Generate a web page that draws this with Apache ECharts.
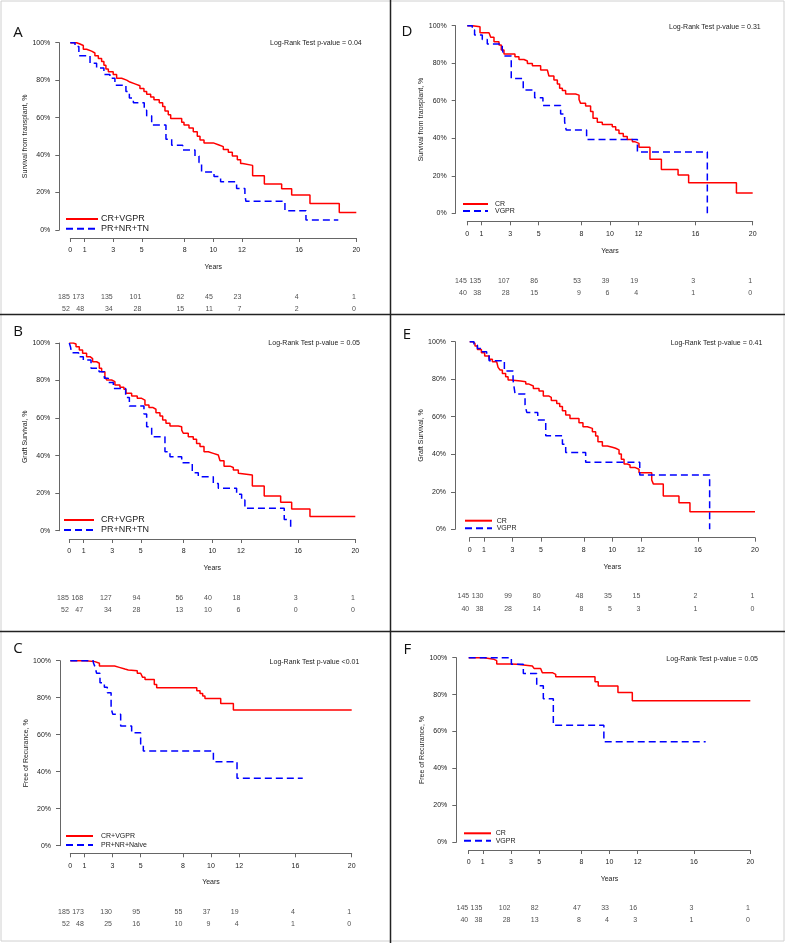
<!DOCTYPE html>
<html>
<head>
<meta charset="utf-8">
<script src="https://cdn.jsdelivr.net/npm/echarts@6/dist/echarts.min.js"></script>
<style>
html, body { margin: 0; padding: 0; background: #fff; }
#main { width: 788px; height: 943px; }
</style>
</head>
<body>
<div id="main"></div>
<script>
// x ticks and the times of the numbers-at-risk table
var yearTicks = [0, 1, 3, 5, 8, 10, 12, 16, 20];
var riskTimes = [0, 1, 3, 5, 8, 10, 12, 16, 20];

// A: survival from transplant, CR+VGPR vs PR+NR+TN  [years, %]
var aCr = [[0,100],[0.44,99.3],[0.68,98.5],[0.91,96.5],[1.14,95.5],[1.49,94.5],[1.72,93],[1.96,91.5],[2.19,90],[2.35,88],[2.49,86],[2.66,84.5],[3.0,83],[3.24,81],[3.59,80],[3.94,79],[4.17,78],[4.52,77],[4.87,75.5],[5.15,74],[5.34,72.5],[5.62,71],[5.85,69.5],[6.22,68],[6.46,66],[6.62,63.5],[6.85,61.5],[7.02,59.5],[7.79,57.5],[7.95,56],[8.3,54.5],[8.6,52.5],[8.88,50],[9.07,48],[9.35,46.5],[10.0,45.5],[10.35,44.5],[10.7,43],[11.05,41.5],[11.33,39.5],[11.68,37.5],[11.91,35.5],[12.05,34.5],[12.75,29],[13.57,24.5],[14.78,22],[15.48,18.7],[16.76,14.2],[18.81,9.4],[20,9.4]];
var aPr = [[0,100],[0.33,98],[0.6,93],[1.38,89],[1.84,86.5],[2.35,83],[2.77,81],[3.12,77.3],[3.89,74],[4.13,70.5],[4.41,68],[5.17,64],[5.34,61],[5.69,56],[6.69,48.5],[7.09,45.3],[7.86,42.7],[8.72,39.5],[9.0,36],[9.18,31],[10.05,28.5],[10.51,25.7],[11.63,22.2],[12.21,19],[12.28,15.3],[15.01,10.3],[16.48,5.3],[18.74,5.3]];
var aRisk1 = [185, 173, 135, 101, 62, 45, 23, 4, 1];
var aRisk2 = [52, 48, 34, 28, 15, 11, 7, 2, 0];

// B: graft survival
var bCr = [[0,100],[0.28,99.5],[0.47,98],[0.7,96.3],[0.93,94.5],[1.21,92.7],[1.45,91.7],[1.63,90],[1.91,89.2],[2.1,86.5],[2.26,84.7],[2.49,82],[2.61,80.3],[2.96,79.4],[3.19,77.6],[3.54,76.4],[3.82,75.3],[3.96,73.2],[4.36,71.8],[4.75,70.5],[5.06,69.6],[5.29,67],[5.57,65.7],[5.83,64.7],[6.06,62.9],[6.34,61.1],[6.53,59],[6.76,57.2],[7.04,55.8],[7.62,55.4],[7.86,53.6],[7.97,51.9],[8.32,50.1],[8.67,48.7],[8.9,46.5],[9.14,44.8],[9.42,42.1],[9.72,41.2],[10.07,40.3],[10.42,39.4],[10.54,37.3],[10.82,34.4],[11.24,33.7],[11.47,32.3],[11.82,30.6],[11.93,29.7],[12.8,23.8],[13.63,18.5],[14.78,15.1],[15.55,11.5],[16.83,7.5],[20,7.5]];
var bPr = [[0,100],[0.09,97.7],[0.16,94.8],[0.65,92.7],[0.98,90.9],[1.52,86.5],[2.08,84.7],[2.45,81.2],[2.73,78.9],[3.08,75.8],[3.94,71],[4.2,66.4],[5.22,62.2],[5.41,55.4],[5.76,50.1],[6.69,42.1],[7.04,39.4],[7.86,36.2],[8.6,30.9],[9.02,28.8],[10.07,25.2],[10.42,22.6],[11.7,19.4],[12.05,16.3],[12.28,11.9],[15.03,6],[15.48,0]];
var bRisk1 = [185, 168, 127, 94, 56, 40, 18, 3, 1];
var bRisk2 = [52, 47, 34, 28, 13, 10, 6, 0, 0];

// C: free of recurrence
var cCr = [[0,100],[1.07,99.5],[1.75,98.6],[2.07,97.1],[3.15,96.4],[3.48,95.5],[3.88,95],[4.12,94.6],[4.76,93.2],[5.0,92.3],[5.14,91],[5.31,89.9],[5.97,87.2],[6.14,85.4],[8.99,83.8],[9.22,82.3],[9.41,80.9],[9.57,79.6],[10.69,76.9],[11.59,73.3],[20,73.3]];
var cPr = [[0,100],[1.64,98.9],[1.75,96.8],[1.87,93.2],[2.11,88.1],[2.42,85.6],[2.63,82.7],[2.9,74.2],[3.02,71],[3.58,64.7],[4.36,61.1],[5.0,55],[5.19,51.2],[10.17,45.4],[11.85,36.4],[16.52,36.4]];
var cRisk1 = [185, 173, 130, 95, 55, 37, 19, 4, 1];
var cRisk2 = [52, 48, 25, 16, 10, 9, 4, 1, 0];

// D: survival from transplant, CR vs VGPR
var dCr = [[0,100],[0.35,99.5],[0.89,96.3],[1.52,95.9],[1.64,93.8],[1.87,91.5],[2.22,89.7],[2.38,87],[2.57,84.9],[3.34,83.5],[3.62,82],[3.97,81.2],[4.21,79.9],[4.56,78.7],[5.14,76.4],[5.61,75.5],[5.72,73.2],[6.07,71],[6.31,68.9],[6.47,66.6],[6.66,65.4],[6.89,63.6],[7.59,63],[7.83,60.7],[7.94,58.6],[8.29,57.2],[8.64,54.2],[8.81,50.6],[9.11,48.5],[9.46,47.4],[10.16,46.2],[10.4,44.4],[10.63,42.6],[10.93,40.9],[11.21,39.4],[11.57,38.2],[11.73,37.3],[12.03,35.2],[12.8,28.8],[13.6,23.4],[14.77,20.4],[15.51,16.3],[18.86,10.8],[20,10.8]];
var dVg = [[0,100],[0.35,97.7],[0.51,95],[1.05,92.7],[1.4,90.2],[2.45,87.4],[2.57,83.8],[3.08,71.9],[3.92,65.7],[4.72,61.6],[5.3,57.5],[6.54,52.9],[6.82,48.8],[6.93,44.4],[8.36,39.4],[11.92,32.7],[16.82,0]];
var dRisk1 = [145, 135, 107, 86, 53, 39, 19, 3, 1];
var dRisk2 = [40, 38, 28, 15, 9, 6, 4, 1, 0];

// E: graft survival
var eCr = [[0,100],[0.19,99.1],[0.37,97.7],[0.54,95.9],[0.82,94.1],[1.05,92.4],[1.36,90.6],[1.59,89.3],[1.89,88.5],[1.99,86.3],[2.13,84.9],[2.29,83.1],[2.52,81.3],[2.69,79.6],[2.87,79],[3.57,78.7],[3.93,77.4],[4.16,76.4],[4.46,75.1],[4.86,73.7],[5.16,71],[5.56,70.3],[5.72,68.6],[6.1,67.1],[6.31,65.4],[6.5,63.2],[6.73,60.9],[7.03,59.1],[7.66,56.8],[7.94,54.7],[8.25,53.8],[8.6,52],[8.83,49.7],[8.99,46.7],[9.3,44.4],[9.65,43.7],[10,43.2],[10.23,42.3],[10.47,40.1],[10.63,37.3],[10.82,34.8],[11.05,34.3],[11.24,33],[11.57,32],[11.87,30.2],[12.76,26.3],[12.87,24.2],[13.57,17.8],[14.67,14.2],[15.44,9.4],[20,9.4]];
var eVg = [[0,100],[0.3,98.2],[0.54,96.4],[0.89,94.7],[1.19,92.9],[1.36,89.9],[2.43,84.4],[3.04,79.6],[3.18,72.1],[3.88,66.3],[4.0,62.3],[4.77,58.3],[5.33,49.9],[6.5,45.3],[6.73,40.9],[8.13,35.7],[11.92,29],[16.82,0]];
var eRisk1 = [145, 130, 99, 80, 48, 35, 15, 2, 1];
var eRisk2 = [40, 38, 28, 14, 8, 5, 3, 1, 0];

// F: free of recurrence
var fCr = [[0,100],[1.07,99.1],[1.8,98.4],[1.99,96.6],[2.98,96.4],[3.41,95.5],[4.52,95.1],[4.64,94.2],[5.11,93.7],[5.23,91.9],[5.94,91],[6.18,89.7],[8.97,87],[9.2,84.7],[10.6,81.2],[11.62,76.7],[20,76.7]];
var fVg = [[0,100],[3.03,96.4],[3.88,91.5],[4.83,84.8],[5.3,77.8],[6.01,63.4],[9.6,54.5],[16.83,54.5]];
var fRisk1 = [145, 135, 102, 82, 47, 33, 16, 3, 1];
var fRisk2 = [40, 38, 28, 13, 8, 4, 3, 1, 0];

var FONT = '"Liberation Sans", Arial, Helvetica, sans-serif';
var RED = '#ff0000';
var BLUE = '#0000ff';
var TXT = '#222';
var AX = '#666';

// layout of each panel (pixels)
var panels = [
    { letter: 'A', lx: 18, ly: 33, left: 70.3, top: 42.7, width: 286, height: 187.3, yLine: 59.3, xLine: 238, yearsY: 267, yNameX: 30,
      yName: 'Survival from transplant, %', names: ['CR+VGPR', 'PR+NR+TN'], red: aCr, blue: aPr, r1: aRisk1, r2: aRisk2, riskY: [296.7, 309],
      legLeft: 65, legRow: [219, 228.7], legW: 32, legTx: 100, legFont: 9, pv: 'Log-Rank Test p-value = 0.04', pvX: 361.7, pvY: 43.3 },
    { letter: 'B', lx: 18, ly: 331.7, left: 69.3, top: 343, width: 286, height: 187.7, yLine: 59.3, xLine: 539, yearsY: 568.3, yNameX: 28.3,
      yName: 'Graft Survival, %', names: ['CR+VGPR', 'PR+NR+TN'], red: bCr, blue: bPr, r1: bRisk1, r2: bRisk2, riskY: [597.7, 610],
      legLeft: 63, legRow: [520, 530], legW: 30, legTx: 100, legFont: 9, pv: 'Log-Rank Test p-value = 0.05', pvX: 360, pvY: 343.3 },
    { letter: 'C', lx: 18, ly: 648.3, left: 70.3, top: 660.7, width: 281.4, height: 185, yLine: 60, xLine: 853.3, yearsY: 882.3, yNameX: 30,
      yName: 'Free of Recurance, %', names: ['CR+VGPR', 'PR+NR+Naive'], red: cCr, blue: cPr, r1: cRisk1, r2: cRisk2, riskY: [911.7, 923.7],
      legLeft: 65, legRow: [836, 845], legW: 27, legTx: 100, legFont: 7, pv: 'Log-Rank Test p-value <0.01', pvX: 359.3, pvY: 662 },
    { letter: 'D', lx: 407, ly: 32, left: 467.3, top: 25.7, width: 285.4, height: 187.6, yLine: 455.7, xLine: 221.3, yearsY: 250.7, yNameX: 426.3,
      yName: 'Survival from transplant, %', names: ['CR', 'VGPR'], red: dCr, blue: dVg, r1: dRisk1, r2: dRisk2, riskY: [280.7, 293.3],
      legLeft: 462, legRow: [204, 211], legW: 25, legTx: 494, legFont: 7, pv: 'Log-Rank Test p-value = 0.31', pvX: 760.7, pvY: 26.7 },
    { letter: 'E', lx: 407, ly: 335, left: 469.7, top: 341.7, width: 285.3, height: 187.6, yLine: 455, xLine: 537.7, yearsY: 566.7, yNameX: 427.3,
      yName: 'Graft Survival, %', names: ['CR', 'VGPR'], red: eCr, blue: eVg, r1: eRisk1, r2: eRisk2, riskY: [596, 608.7],
      legLeft: 464, legRow: [520.7, 528.3], legW: 27, legTx: 495.7, legFont: 7, pv: 'Log-Rank Test p-value = 0.41', pvX: 762.3, pvY: 342.7 },
    { letter: 'F', lx: 407.3, ly: 650, left: 468.7, top: 657.7, width: 281.6, height: 184.6, yLine: 456.3, xLine: 850, yearsY: 879.3, yNameX: 428.3,
      yName: 'Free of Recurance, %', names: ['CR', 'VGPR'], red: fCr, blue: fVg, r1: fRisk1, r2: fRisk2, riskY: [908.3, 920.3],
      legLeft: 463, legRow: [833.3, 840.7], legW: 27, legTx: 494.7, legFont: 7, pv: 'Log-Rank Test p-value = 0.05', pvX: 758, pvY: 658.7 }
];

var grids = [], xAxes = [], yAxes = [], series = [], legends = [];
var graphics = [
    // frame of the figure and the panel dividers
    { type: 'rect', shape: { x: 1, y: 1, width: 783, height: 940 }, style: { fill: 'none', stroke: '#d0d0d0', lineWidth: 1 } },
    { type: 'line', shape: { x1: 390.5, y1: 0, x2: 390.5, y2: 943 }, style: { stroke: '#222', lineWidth: 1.5 } },
    { type: 'line', shape: { x1: 0, y1: 314.5, x2: 785, y2: 314.5 }, style: { stroke: '#222', lineWidth: 1.5 } },
    { type: 'line', shape: { x1: 0, y1: 631.5, x2: 785, y2: 631.5 }, style: { stroke: '#222', lineWidth: 1.5 } }
];

panels.forEach(function (p) {
    var gi = grids.length;
    grids.push({ left: p.left, top: p.top, width: p.width, height: p.height });
    xAxes.push({
        gridIndex: gi, type: 'value', min: 0, max: 20,
        offset: p.xLine - (p.top + p.height),
        name: 'Years', nameLocation: 'middle', nameGap: p.yearsY - p.xLine - 3.5,
        nameTextStyle: { fontSize: 7, color: TXT, fontFamily: FONT },
        axisLine: { onZero: false, lineStyle: { color: AX, width: 1 } },
        axisTick: { length: 4, customValues: yearTicks, lineStyle: { color: AX } },
        axisLabel: { customValues: yearTicks, margin: 9, fontSize: 7, color: TXT, fontFamily: FONT },
        splitLine: { show: false }
    });
    yAxes.push({
        gridIndex: gi, type: 'value', min: 0, max: 100, interval: 20,
        offset: p.left - p.yLine,
        name: p.yName, nameLocation: 'middle', nameGap: p.yLine - p.yNameX - 4,
        nameTextStyle: { fontSize: 7, color: TXT, fontFamily: FONT },
        axisLine: { show: true, onZero: false, lineStyle: { color: AX, width: 1 } },
        axisTick: { show: true, length: 4, lineStyle: { color: AX } },
        axisLabel: { formatter: '{value}%', margin: 9, fontSize: 7, color: TXT, fontFamily: FONT },
        splitLine: { show: false }
    });
    series.push({
        type: 'line', name: p.names[0], xAxisIndex: gi, yAxisIndex: gi, data: p.red,
        step: 'end', symbol: 'none', silent: true,
        lineStyle: { color: RED, width: 1.5 }, itemStyle: { color: RED }
    });
    series.push({
        type: 'line', name: p.names[1], xAxisIndex: gi, yAxisIndex: gi, data: p.blue,
        step: 'end', symbol: 'none', silent: true,
        lineStyle: { color: BLUE, width: 1.5, type: [7, 4] }, itemStyle: { color: BLUE }
    });

    // numbers at risk, on their own grid sharing the x scale
    var ri = grids.length;
    grids.push({ left: p.left, top: p.riskY[0], width: p.width, height: p.riskY[1] - p.riskY[0] });
    xAxes.push({ gridIndex: ri, type: 'value', min: 0, max: 20, show: false });
    yAxes.push({ gridIndex: ri, type: 'value', min: 0, max: 1, show: false });
    var pts = [];
    riskTimes.forEach(function (t, i) {
        pts.push([t, 1, p.r1[i]]);
        pts.push([t, 0, p.r2[i]]);
    });
    series.push({
        type: 'scatter', xAxisIndex: ri, yAxisIndex: ri, data: pts, symbolSize: 0, silent: true,
        label: {
            show: true, position: 'left', distance: 0.5, fontSize: 7, color: TXT, fontFamily: FONT,
            formatter: function (q) { return q.value[2]; }
        }
    });

    var rowH = Math.max(p.legFont, 7);
    legends.push({
        left: p.legLeft, top: p.legRow[0] - rowH / 2, orient: 'vertical', padding: 0,
        itemGap: Math.max(0, (p.legRow[1] - p.legRow[0]) - rowH), itemWidth: p.legW, itemHeight: 7,
        selectedMode: false, data: p.names,
        itemStyle: { opacity: 0 },
        textStyle: { fontSize: p.legFont, color: TXT, fontFamily: FONT, padding: [0, 0, 0, p.legTx - p.legLeft - p.legW - 5] }
    });

    graphics.push({ type: 'text', x: p.lx, y: p.ly, style: { text: p.letter, fontSize: 15, fontFamily: '"Open Sans", "Liberation Sans", sans-serif', fill: '#111', align: 'center', verticalAlign: 'middle' } });
    graphics.push({ type: 'text', x: p.pvX, y: p.pvY, style: { text: p.pv, fontSize: 7, fontFamily: FONT, fill: TXT, align: 'right', verticalAlign: 'middle' } });
});

var myChart = echarts.init(document.getElementById('main'));
var option = {
    backgroundColor: '#fff',
    animation: false,
    grid: grids,
    xAxis: xAxes,
    yAxis: yAxes,
    legend: legends,
    series: series,
    graphic: graphics
};
myChart.setOption(option);
window.addEventListener('resize', function () {
    myChart.resize();
});
</script>
</body>
</html>
